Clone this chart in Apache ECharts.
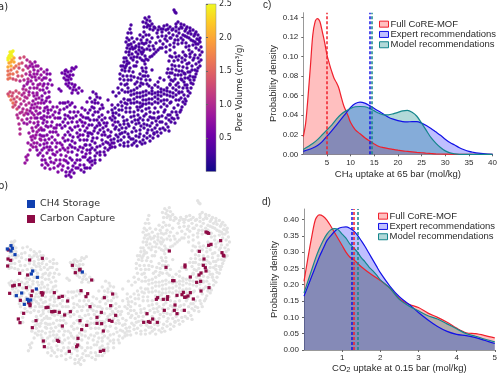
<!DOCTYPE html>
<html><head><meta charset="utf-8">
<style>html,body{margin:0;padding:0;background:#fff}#c{width:500px;height:375px}</style>
<script src="https://cdn.jsdelivr.net/npm/echarts@6/dist/echarts.min.js"></script>
</head><body><div id="c"></div>
<script>
// Embedding coordinates (unitless) binned by pore volume
const pv24=[[8,58],[10,55],[12,52],[9,56],[13,51],[11,54],[10,58],[8,60],[12,56],[10,52]];
const pv19=[[12,60],[9,63],[14,62],[8,67],[11,66],[14,58],[11,62]];
const pv16=[[8,71],[11,70],[14,68],[8,75],[10,78],[13,74],[17,72],[8,79],[16,66],[19,64],[10,74],[9,96],[11,100],[13,103]];
const pv13=[[20,58],[24,57],[22,63],[19,68],[23,70],[18,76],[22,76],[13,79],[16,80],[8,94],[10,92],[12,96],[14,99],[15,105],[16,102],[13,107],[17,109],[19,93],[17,97],[20,99],[16,91],[13,93]];
const pv10=[[27,60],[30,62],[26,66],[28,68],[26,74],[30,72],[20,81],[24,80],[28,79],[22,95],[24,93],[21,104],[24,101],[27,98],[29,95],[26,105],[29,103],[23,109],[27,110],[20,113],[17,115],[24,115],[22,120],[18,118],[19,124],[20,129],[20,134],[23,89],[26,90],[25,97],[19,107],[22,112],[26,113]];
const pv08=[[32,64],[35,62],[34,70],[32,77],[27,84],[24,86],[38,66],[41,69],[44,72],[37,74],[41,75],[36,80],[33,84],[30,88],[38,85],[42,80],[46,78],[40,90],[37,93],[33,93],[31,108],[33,101],[36,99],[37,95],[28,114],[32,113],[36,111],[40,108],[35,118],[31,118],[27,119],[34,123],[38,122],[32,128],[29,133],[33,136],[35,138],[32,140],[28,143],[33,147],[30,150],[26,157],[27,160],[25,163],[28,155],[37,132],[41,128],[37,143],[41,140],[30,66],[33,67],[36,66],[30,75],[34,74],[38,71],[39,78],[35,77],[31,81],[28,82],[34,88],[37,88],[40,84],[43,86],[29,92],[34,96],[39,98],[32,105],[35,104],[38,103],[41,103],[34,108],[37,107],[30,111],[34,115],[38,114],[24,123],[27,124],[30,122],[36,127],[33,131],[39,130],[31,137],[36,135],[40,139],[34,143],[31,145],[36,147]];
const pv065=[[47,70],[44,84],[47,88],[42,96],[45,93],[49,92],[52,85],[50,80],[47,98],[50,102],[44,103],[53,107],[40,113],[44,111],[48,113],[41,118],[44,116],[47,117],[53,115],[42,118],[37,118],[52,122],[43,123],[38,125],[48,127],[42,130],[47,135],[40,135],[37,150],[42,150],[47,147],[52,143],[44,144],[40,145],[47,153],[43,156],[52,150],[56,147],[38,155],[45,160],[50,158],[55,155],[48,165],[54,163],[60,150],[60,160],[42,165],[58,166],[62,145],[65,150],[66,156],[66,161],[63,166],[68,148],[56,128],[58,135],[53,132],[63,138],[60,143],[57,125],[58,118],[60,110],[57,107],[47,107],[46,126],[49,139],[52,137],[44,136],[47,74],[50,74],[44,78],[48,84],[43,90],[46,101],[42,100],[49,97],[51,110],[45,108],[48,110],[55,112],[50,117],[44,120],[47,122],[55,118],[51,126],[54,128],[44,130],[50,132],[56,132],[42,136],[45,140],[47,143],[55,140],[57,143],[50,147],[44,148],[49,150],[53,154],[40,153],[42,160],[46,163],[51,162],[56,160],[57,152],[61,155],[63,148],[68,152],[64,160],[60,164],[54,168],[50,169],[45,168],[62,170],[58,172]];
const pv05=[[63,103],[68,102],[72,103],[67,107],[75,107],[78,112],[70,112],[65,115],[73,118],[80,120],[63,122],[68,123],[75,127],[62,128],[68,132],[80,130],[73,137],[83,135],[70,145],[75,143],[80,147],[85,145],[72,152],[77,155],[82,152],[87,150],[70,158],[75,163],[80,160],[85,157],[90,153],[68,168],[72,170],[66,172],[69,175],[71,177],[66,176],[78,168],[84,165],[90,162],[73,166],[62,73],[65,71],[68,72],[71,71],[74,69],[76,67],[70,75],[67,76],[64,78],[68,80],[71,79],[66,84],[69,83],[72,84],[70,88],[73,90],[76,90],[79,88],[82,91],[78,93],[75,85],[59,89],[61,91],[85,123],[83,117],[85,110],[87,128],[70,128],[77,133],[65,135],[59,113],[64,109],[70,118],[77,122],[83,126],[87,102],[60,103],[65,103],[70,105],[60,118],[65,119],[68,116],[72,122],[65,126],[72,130],[76,116],[81,115],[82,108],[74,112],[78,126],[82,122],[70,135],[65,141],[68,140],[60,125],[72,141],[78,137],[80,135],[84,140],[75,148],[78,150],[72,147],[83,148],[86,154],[83,157],[77,160],[72,160],[68,163],[80,165],[76,168],[70,172],[74,173],[81,170],[87,168],[92,165],[66,70],[72,68],[73,75],[65,74],[69,77],[74,87],[66,80],[68,86],[72,93]];
const pv04=[[93,92],[97,97],[100,98],[90,98],[95,103],[102,105],[103,108],[92,107],[98,112],[88,113],[93,115],[102,115],[105,118],[90,120],[97,120],[92,125],[100,125],[107,123],[95,128],[103,128],[108,130],[90,133],[98,133],[105,135],[93,138],[102,140],[87,140],[90,145],[95,143],[100,146],[106,142],[111,140],[95,150],[100,152],[105,148],[90,158],[95,156],[84,172],[90,168],[95,163],[100,160],[105,155],[110,148],[85,131],[88,136],[94,108],[99,117],[96,94],[92,134],[97,126],[110,145],[114,143],[86,118],[102,120],[110,118],[108,112],[113,125],[111,132],[115,122],[112,105],[108,100],[113,116],[80,140],[95,100],[98,103],[92,102],[100,109],[95,112],[90,110],[88,118],[94,120],[99,123],[104,123],[89,125],[94,131],[100,130],[104,132],[88,133],[86,145],[92,141],[97,138],[102,135],[108,137],[92,148],[97,147],[103,144],[108,143],[90,150],[95,160],[88,160],[85,168],[92,161],[100,155],[104,152],[108,150],[112,147],[97,153],[115,147],[112,143],[110,136],[106,126]];
const pv03=[[174,10],[175,12],[176,13],[145,18],[147,20],[149,17],[143,22],[146,23],[150,21],[148,25],[144,27],[152,24],[155,28],[158,30],[161,29],[164,26],[167,25],[170,27],[166,30],[162,32],[157,33],[153,30],[150,29],[178,22],[181,24],[184,25],[187,27],[190,28],[193,30],[196,32],[198,35],[176,27],[179,29],[182,28],[185,31],[188,33],[191,34],[194,36],[197,39],[200,38],[200,42],[198,44],[195,42],[191,40],[187,37],[183,35],[179,33],[176,31],[172,30],[169,33],[166,36],[162,36],[158,37],[131,25],[130,29],[128,33],[131,33],[127,38],[129,40],[132,38],[126,42],[128,45],[131,44],[134,42],[127,48],[130,49],[133,49],[136,46],[139,44],[141,40],[143,37],[140,35],[137,39],[144,32],[146,35],[149,35],[152,38],[150,42],[147,40],[144,44],[142,48],[139,50],[136,52],[132,54],[129,55],[126,58],[124,62],[127,61],[123,66],[126,66],[129,63],[122,70],[125,71],[120,74],[123,76],[120,79],[124,80],[127,76],[121,84],[118,88],[122,90],[119,93],[116,96],[113,92],[201,47],[199,50],[196,48],[193,45],[200,55],[198,58],[195,55],[192,52],[199,62],[196,64],[193,60],[190,57],[198,68],[195,70],[192,66],[189,63],[196,74],[193,77],[190,72],[187,68],[194,80],[191,83],[188,78],[185,74],[191,88],[188,91],[185,85],[182,80],[188,96],[185,99],[182,92],[179,87],[185,104],[182,107],[179,100],[176,95],[180,112],[177,115],[174,108],[171,102],[174,119],[171,122],[168,115],[165,110],[168,127],[165,130],[162,122],[159,117],[161,133],[158,136],[155,128],[152,123],[153,138],[150,141],[147,133],[144,128],[145,143],[142,144],[139,137],[136,131],[137,146],[134,143],[131,139],[128,134],[124,137],[122,133],[119,130],[116,135],[114,139],[118,141],[124,143],[128,142],[125,92],[128,88],[131,95],[134,90],[137,93],[140,97],[143,92],[146,95],[149,99],[152,94],[155,97],[158,92],[161,96],[164,100],[167,95],[170,92],[173,88],[176,85],[152,88],[155,85],[158,87],[161,89],[164,90],[167,88],[170,85],[130,100],[127,104],[124,99],[121,102],[118,105],[115,108],[112,110],[134,103],[137,107],[140,103],[143,100],[146,104],[149,108],[152,104],[155,108],[158,103],[161,107],[164,112],[167,106],[122,110],[126,112],[130,108],[134,112],[138,115],[142,111],[146,114],[150,117],[154,113],[158,118],[143,120],[139,123],[135,120],[131,117],[127,120],[123,117],[119,115],[115,118],[118,122],[124,124],[129,126],[134,128],[140,130],[147,125],[152,130],[157,125],[143,52],[145,56],[142,60],[145,64],[142,68],[146,72],[143,76],[146,80],[143,84],[148,76],[150,80],[140,74],[138,78],[136,66],[133,72],[130,68],[133,60],[137,57],[148,60],[152,56],[156,52],[160,48],[163,44],[167,41],[171,38],[175,40],[178,44],[174,47],[170,50],[166,52],[175,53],[179,56],[183,52],[186,47],[182,43],[189,50],[172,57],[169,61],[172,65],[168,69],[172,73],[169,77],[173,81],[176,70],[179,66],[182,62],[185,60],[178,75],[182,71],[181,79],[185,78],[160,78],[164,80],[158,82],[152,70],[135,84],[131,80],[137,88],[127,84],[140,86],
[147,27],[150,26],[154,27],[159,27],[163,29],[168,29],[173,29],[176,24],[181,27],[186,29],[190,31],[195,34],[199,40],[196,44],[193,41],[189,38],[185,36],[181,38],[177,36],[173,35],[170,38],[165,39],[160,41],[156,43],[153,46],[149,46],[146,43],[142,43],[139,47],[135,48],[132,47],[129,45],[126,52],[129,52],[124,58],[121,66],[125,68],[127,64],[131,58],[134,57],[138,54],[141,52],[147,49],[150,50],[154,49],[202,52],[201,60],[200,66],[197,71],[195,77],[193,84],[190,80],[187,85],[190,93],[187,88],[184,95],[186,101],[183,102],[181,98],[178,105],[181,110],[176,112],[172,112],[178,118],[175,123],[172,118],[169,120],[166,124],[169,131],[163,128],[160,129],[157,132],[154,134],[150,136],[147,138],[143,140],[140,142],[136,141],[132,145],[128,146],[124,146],[121,140],[118,137],[120,145],[128,92],[131,91],[134,94],[137,97],[140,93],[143,96],[146,91],[149,93],[152,91],[155,93],[158,95],[161,92],[164,94],[167,91],[170,96],[173,93],[176,90],[179,92],[176,100],[173,97],[170,103],[167,100],[164,104],[161,101],[158,99],[155,102],[152,99],[149,103],[146,100],[143,104],[140,107],[137,102],[134,99],[131,103],[128,100],[125,103],[122,106],[119,110],[116,113],[113,113],[126,108],[130,112],[134,116],[138,110],[142,106],[146,109],[150,112],[154,118],[158,112],[162,116],[166,118],[170,115],[160,122],[156,121],[152,118],[148,120],[144,116],[140,118],[136,124],[132,122],[128,124],[124,121],[120,125],[116,127],[112,120],[132,132],[136,136],[140,134],[144,136],[148,130],[144,124],[150,126],[154,133],[126,128],[122,128],[125,132],[129,137],[120,134],[115,129],[133,139],[141,126],[138,120],[144,50],[142,54],[146,59],[144,61],[146,68],[143,71],[145,76],[141,79],[147,84],[141,83],[149,86],[137,82],[134,77],[131,76],[128,80],[125,85],[134,66],[129,71],[137,62],[140,58],[150,57],[154,54],[158,50],[162,48],[166,47],[170,45],[174,43],[178,40],[183,40],[186,43],[189,46],[185,55],[182,58],[178,60],[174,61],[170,56],[176,57],[172,69],[170,73],[167,73],[171,80],[170,84],[175,75],[179,71],[183,67],[187,64],[175,66],[181,75],[184,82],[178,83],[175,79],[183,88],[179,93],[188,72],[186,56],[190,54],[194,58],[192,70],[190,76],[184,73]];
const poreBands=[[2.45,pv24],[2.0,pv19],[1.6,pv16],[1.3,pv13],[1.0,pv10],[0.8,pv08],[0.65,pv065],[0.5,pv05],[0.4,pv04],[0.3,pv03]];

// Panel b selections (unitless, same embedding as placed in panel b)
const ch4Storage=[[22,207],[33,197],[37,205],[33,213],[45,224],[98,273],[94,282],[112,292],[109,327],[65,339],[49,347],[82,358],[92,360],[73,373],[86,363],[247,276]];
const carbonCapture=[[25,210],[24,237],[32,241],[23,258],[89,240],[127,235],[59,280],[83,285],[217,256],[240,268],[226,278],[275,300],[239,270],[43,316],[38,318],[58,314],[79,323],[97,333],[29,340],[124,338],[129,339],[127,345],[61,361],[94,347],[86,368],[90,372],[90,377],[71,400],[55,417],[60,428],[97,443],[108,422],[130,483],[133,500],[172,481],[176,484],[208,514],[230,500],[233,495],[234,475],[245,449],[240,422],[187,438],[194,405],[211,395],[178,397],[165,394],[159,395],[155,395],[144,382],[138,383],[163,338],[177,352],[187,349],[203,363],[243,332],[263,341],[258,350],[270,380],[313,353],[338,342],[332,377],[304,397],[291,412],[291,430],[305,431],[328,421],[336,424],[347,406],[310,453],[260,436],[301,514],[311,511],[618,156],[622,158],[626,160],[662,182],[633,193],[626,196],[598,214],[508,213],[666,218],[670,226],[672,228],[612,237],[610,256],[616,263],[555,255],[555,261],[498,262],[618,273],[603,279],[597,285],[571,291],[602,304],[590,307],[518,302],[522,302],[627,323],[603,333],[571,338],[550,337],[546,344],[531,346],[503,350],[502,358],[490,358],[473,353],[469,358],[564,348],[558,351],[554,352],[580,357],[525,375],[553,391],[523,391],[493,391],[531,401],[441,401],[458,417],[431,427],[445,425],[450,427],[472,427]];

// Panel c: CH4 density curves
const ch4Full=[[0,.018],[.5,.032],[1,.059],[1.5,.09],[2,.122],[2.5,.136],[3,.139],[3.5,.136],[4,.126],[4.5,.115],[5,.102],[5.5,.093],[6,.085],[6.5,.078],[7,.0735],[7.5,.068],[8,.059],[8.5,.0505],[9,.0445],[9.5,.039],[10,.0325],[11,.025],[12,.021],[13,.017],[14,.0137],[15,.0106],[16,.008],[17,.0068],[18,.0058],[19,.005],[20,.0042],[21,.0035],[22,.003],[23,.0025],[24,.002],[25,.0016],[26,.0011],[27,.0008],[28,.0005],[30,.0002],[32,0],[40,0]];
const ch4Expert=[[0,.003],[2,.0065],[3,.009],[4,.013],[5,.0185],[6,.024],[7,.03],[8,.036],[9,.042],[10,.048],[11,.052],[12,.0535],[13,.0525],[14,.05],[15,.047],[16,.044],[17,.041],[18,.038],[19,.036],[20,.0345],[21,.0335],[22,.0332],[23,.0335],[24,.0335],[25,.032],[26,.0295],[27,.0265],[28,.023],[29,.0195],[30,.0155],[31,.012],[32,.0095],[33,.0068],[34,.0047],[35,.003],[36,.002],[37,.0012],[38,.0006],[39,.0002],[40,0]];
const ch4Model=[[0,.005],[2,.011],[3,.015],[4,.02],[5,.025],[6,.03],[7,.036],[8,.041],[9,.0445],[10,.047],[11,.0487],[12,.049],[13,.0487],[14,.047],[15,.0445],[16,.042],[17,.0405],[18,.0405],[19,.0415],[20,.043],[21,.0445],[22,.045],[23,.043],[24,.039],[25,.032],[26,.0245],[27,.017],[28,.0115],[29,.007],[30,.0035],[31,.0015],[32,.0005],[33,0],[40,0]];
const ch4Means=[4.95,14.0,14.4];

// Panel d: CO2 density curves
const co2Full=[[0,.21],[.1,.28],[.2,.345],[.3,.4],[.4,.414],[.5,.41],[.6,.398],[.7,.38],[.8,.36],[.9,.34],[1,.32],[1.1,.3],[1.2,.285],[1.3,.277],[1.5,.255],[1.75,.233],[2,.213],[2.25,.19],[2.5,.157],[2.75,.14],[3,.13],[3.25,.113],[3.5,.1],[3.75,.085],[4,.067],[4.25,.053],[4.5,.05],[4.75,.044],[5,.037]];
const co2Expert=[[0,.165],[.1,.195],[.2,.225],[.3,.255],[.4,.285],[.5,.31],[.6,.335],[.7,.35],[.8,.363],[.9,.372],[1,.376],[1.1,.377],[1.2,.373],[1.3,.365],[1.4,.352],[1.5,.335],[1.6,.317],[1.7,.297],[1.8,.277],[1.9,.257],[2,.237],[2.25,.196],[2.5,.163],[2.75,.14],[3,.115],[3.25,.092],[3.5,.072],[3.75,.057],[4,.048],[4.25,.044],[4.5,.038],[4.75,.029],[5,.02]];
const co2Model=[[0,.175],[.1,.21],[.2,.245],[.3,.28],[.4,.31],[.5,.335],[.6,.355],[.7,.368],[.8,.372],[.9,.368],[1,.355],[1.1,.343],[1.2,.325],[1.3,.313],[1.4,.3],[1.5,.283],[1.6,.27],[1.7,.255],[1.8,.243],[1.9,.23],[2,.215],[2.25,.19],[2.5,.155],[2.75,.135],[3,.12],[3.25,.105],[3.5,.095],[3.75,.08],[4,.065],[4.25,.05],[4.5,.042],[4.75,.033],[5,.025]];
const co2Means=[1.31,1.26,1.41];

const ch4YTicks=[0,.02,.04,.06,.08,.10,.12,.14];
const co2YTicks=[0,.05,.10,.15,.20,.25,.30,.35,.40];
const names=['Full CoRE-MOF','Expert recommendations','Model recommendations'];
const colors=['#f0202c','#1212e6','#14868c'];
const fills=['rgba(255,0,0,.25)','rgba(0,0,255,.25)','rgba(0,128,128,.3)'];
const plasma=['#0d0887','#46039f','#7201a8','#9c179e','#bd3786','#d8576b','#ed7953','#fb9f3a','#fdca26','#f0f921'];

const allPoints=[];
poreBands.forEach(b=>b[1].forEach(p=>allPoints.push([p[0],p[1],b[0]])));

const SANS='"Liberation Sans",Arial,sans-serif', DJ='"DejaVu Sans",sans-serif', TXT='#2b2b2b';
const hidden={show:false};
function hx(i,min,max){return {gridIndex:i,type:'value',min,max,...hidden};}
function hy(i,min,max){return {gridIndex:i,type:'value',min,max,inverse:true,...hidden};}
function density(gi,i,data,mean){
  return {type:'line',name:names[i],xAxisIndex:gi,yAxisIndex:gi,data,smooth:0.3,showSymbol:false,symbol:'none',
    lineStyle:{color:colors[i],width:1.2},itemStyle:{color:colors[i]},areaStyle:{color:fills[i],opacity:1},silent:true,
    markLine:{silent:true,symbol:'none',label:{show:false},animation:false,
      lineStyle:{color:colors[i],type:[3,2],width:1.5},data:[{xAxis:mean}]}};
}
function legendFor(left,top){
  return {left,top,orient:'vertical',padding:0,itemGap:0,itemWidth:9,itemHeight:6,selectedMode:false,
    textStyle:{fontFamily:SANS,fontSize:9.5,color:TXT,lineHeight:10.3,padding:[0,0,0,-3]},
    data:names.map((n,i)=>({name:n,icon:'rect',itemStyle:{color:fills[i],borderColor:colors[i],borderWidth:1}}))};
}
function plotX(i,max,interval,name){
  return {gridIndex:i,type:'value',min:0,max,interval,name,nameLocation:'middle',
    axisLine:{show:true,lineStyle:{color:'#999',width:1}},axisTick:{show:true,length:2,lineStyle:{color:'#666'}},
    splitLine:{show:false},axisLabel:{fontFamily:SANS,fontSize:8,color:TXT,margin:4,showMinLabel:false,
      formatter:v=>String(v)}};
}
function plotY(i,max,ticks){
  return {gridIndex:i,type:'value',min:0,max,name:'Probability density',nameLocation:'middle',nameRotate:90,nameGap:25,
    nameTextStyle:{fontFamily:SANS,fontSize:9.5,color:TXT},
    axisLine:{show:true,lineStyle:{color:'#999',width:1}},axisTick:{show:true,length:2,customValues:ticks,lineStyle:{color:'#666'}},
    splitLine:{show:false},axisLabel:{fontFamily:SANS,fontSize:8,color:TXT,margin:5,customValues:ticks,
      formatter:v=>v.toFixed(2)}};
}
const xNameStyle={fontFamily:SANS,fontSize:9.5,color:TXT,rich:{sub:{fontFamily:SANS,fontSize:7.5,color:TXT,verticalAlign:'bottom',padding:[3,0,0,0]},t:{fontFamily:SANS,fontSize:9.5,color:TXT}}};

const chart=echarts.init(document.getElementById('c'),null,{renderer:'canvas'});
const cx=plotX(3,40,5,'');cx.name='{t|CH}{sub|4}{t| uptake at 65 bar (mol/kg)}';cx.nameGap=15;cx.nameTextStyle=xNameStyle;
const dx=plotX(4,5,1,'');dx.name='{t|CO}{sub|2}{t| uptake at 0.15 bar (mol/kg)}';dx.nameGap=13;dx.nameTextStyle=xNameStyle;
chart.setOption({
  animation:false,
  backgroundColor:'#fff',
  title:[
    {text:'a)',left:-2,top:2,padding:0,textStyle:{fontFamily:DJ,fontSize:10,fontWeight:'normal',color:TXT}},
    {text:'b)',left:-2,top:181,padding:0,textStyle:{fontFamily:DJ,fontSize:10,fontWeight:'normal',color:TXT}},
    {text:'c)',left:263,top:0,padding:0,textStyle:{fontFamily:SANS,fontSize:10,fontWeight:'normal',color:TXT}},
    {text:'d)',left:262,top:197,padding:0,textStyle:{fontFamily:SANS,fontSize:10,fontWeight:'normal',color:TXT}}
  ],
  grid:[
    {left:0,top:0,width:210,height:180},
    {left:-6,top:191,width:244.6,height:176.4},
    {left:0,top:180,width:250,height:195},
    {left:303.3,top:12.7,width:191,height:141.6},
    {left:304,top:209,width:194,height:145},
    {left:206,top:4,width:10,height:167.5,show:true,borderColor:'#888',borderWidth:.5,
      backgroundColor:new echarts.graphic.LinearGradient(0,1,0,0,plasma.map((c,i)=>({offset:i/(plasma.length-1),color:c})))}
  ],
  xAxis:[hx(0,0,210),hx(1,0,210),hx(2,0,750),cx,dx,{gridIndex:5,type:'value',min:0,max:1,show:false}],
  yAxis:[hy(0,0,180),hy(1,0,180),hy(2,0,585),plotY(3,.1451,ch4YTicks),plotY(4,.432,co2YTicks),
    {gridIndex:5,type:'value',min:0,max:2.5,interval:.5,position:'right',
     name:'Pore Volume (cm³/g)',nameLocation:'middle',nameRotate:90,nameGap:19,
     nameTextStyle:{fontFamily:DJ,fontSize:8.5,color:TXT},
     axisLine:{show:false},axisTick:{show:true,length:2,lineStyle:{color:'#666'}},splitLine:{show:false},
     axisLabel:{fontFamily:DJ,fontSize:8,color:TXT,margin:3,showMinLabel:false,formatter:v=>v.toFixed(1)}}
  ],
  visualMap:{show:false,seriesIndex:0,dimension:2,min:0,max:2.5,inRange:{color:plasma}},
  legend:[
    {left:27,top:199,orient:'vertical',padding:0,itemGap:5,itemWidth:8,itemHeight:8,selectedMode:false,
     textStyle:{fontFamily:DJ,fontSize:9.5,color:'#333'},
     data:[{name:'CH4 Storage',icon:'rect'},{name:'Carbon Capture',icon:'rect'}]},
    legendFor(379,19),
    legendFor(378,211)
  ],
  series:[
    {type:'scatter',xAxisIndex:0,yAxisIndex:0,data:allPoints,symbolSize:3.4,silent:true,itemStyle:{opacity:1}},
    {type:'scatter',name:'Background',xAxisIndex:1,yAxisIndex:1,data:allPoints.map(p=>[p[0],p[1]]),symbolSize:3.4,silent:true,itemStyle:{color:'#e3e3e3',opacity:1}},
    {type:'scatter',name:'Carbon Capture',xAxisIndex:2,yAxisIndex:2,data:carbonCapture,symbol:'rect',symbolSize:3.2,silent:true,itemStyle:{color:'#8e0b45',opacity:1}},
    {type:'scatter',name:'CH4 Storage',xAxisIndex:2,yAxisIndex:2,data:ch4Storage,symbol:'rect',symbolSize:3.2,silent:true,itemStyle:{color:'#1040b0',opacity:1}},
    density(3,0,ch4Full,ch4Means[0]),density(3,1,ch4Expert,ch4Means[1]),density(3,2,ch4Model,ch4Means[2]),
    density(4,0,co2Full,co2Means[0]),density(4,1,co2Expert,co2Means[1]),density(4,2,co2Model,co2Means[2])
  ]
});
</script></body></html>
